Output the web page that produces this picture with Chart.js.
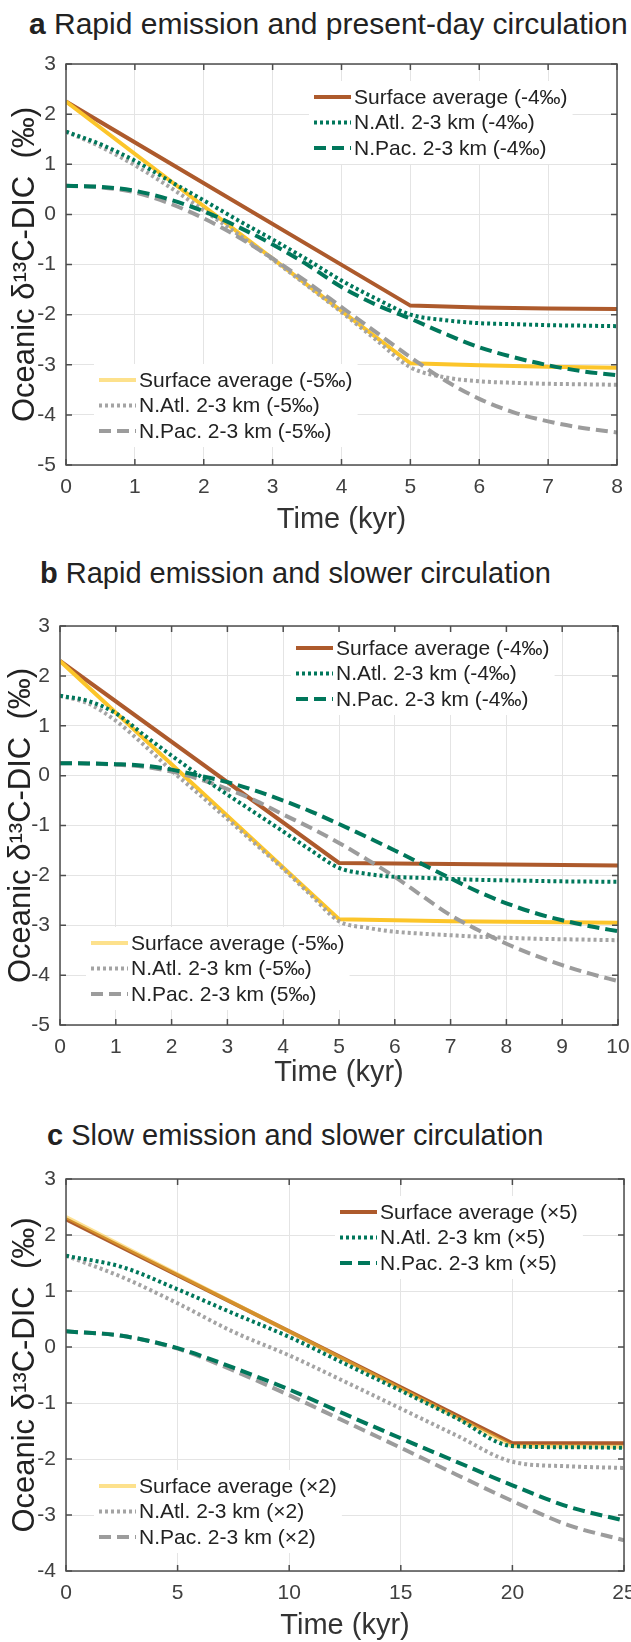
<!DOCTYPE html>
<html>
<head>
<meta charset="utf-8">
<title>Oceanic d13C-DIC response</title>
<script src="https://cdn.jsdelivr.net/npm/chart.js@4.4.1/dist/chart.umd.min.js"></script>
<style>
  html, body { margin: 0; padding: 0; background: #fff; overflow: hidden; }
  body { width: 631px; height: 1642px; position: relative; }
  canvas { position: absolute; left: 0; }
  .ptitle {
    position: absolute;
    font: 29px/30px "Liberation Sans", Arial, Helvetica, sans-serif;
    color: #222;
    white-space: nowrap;
  }
  .ptitle b { font-weight: bold; }
</style>
</head>
<body>

<div class="ptitle" style="top:9px;left:29px;font-size:30px"><b>a</b> Rapid emission and present-day circulation</div>
<canvas id="chartA" width="631" height="496" style="top:40px"></canvas>

<div class="ptitle" style="top:558px;left:40px"><b>b</b> Rapid emission and slower circulation</div>
<canvas id="chartB" width="631" height="487" style="top:602px"></canvas>

<div class="ptitle" style="top:1120px;left:47px"><b>c</b> Slow emission and slower circulation</div>
<canvas id="chartC" width="631" height="487" style="top:1155px"></canvas>

<script>
/* ---------- data (kyr, per mil) ---------- */

// panel a : rapid emission, present-day circulation
const kyrA = [0, 0.5, 1, 1.5, 2, 2.5, 3, 3.5, 4, 4.5, 5, 5.5, 6, 6.5, 7, 7.5, 8];
const kyrSurfA = [0, 5, 6, 7, 8];
const surfA4 = [2.25, -1.82, -1.86, -1.88, -1.89];
const surfA5 = [2.25, -2.97, -3.01, -3.04, -3.06];
const atlA4 = [1.65, 1.4, 1.07, 0.67, 0.28, -0.12, -0.5, -0.9, -1.32, -1.68, -2.0, -2.11, -2.17, -2.19, -2.21, -2.22, -2.23];
const pacA4 = [0.57, 0.55, 0.47, 0.3, 0.06, -0.25, -0.6, -1.0, -1.45, -1.8, -2.08, -2.38, -2.65, -2.85, -3.01, -3.13, -3.21];
const atlA5 = [1.65, 1.35, 0.98, 0.55, 0.08, -0.4, -0.9, -1.42, -1.95, -2.5, -3.05, -3.25, -3.33, -3.36, -3.38, -3.39, -3.4];
const pacA5 = [0.57, 0.54, 0.44, 0.22, -0.08, -0.45, -0.88, -1.35, -1.85, -2.35, -2.85, -3.31, -3.68, -3.95, -4.13, -4.26, -4.35];

// panel b : rapid emission, slower circulation
const kyrB = [0, 0.5, 1, 1.5, 2, 2.5, 3, 3.5, 4, 4.5, 5, 5.5, 6, 6.5, 7, 7.5, 8, 8.5, 9, 9.5, 10];
const kyrSurfB = [0, 5, 7, 10];
const surfB4 = [2.3, -1.75, -1.77, -1.8];
const surfB5 = [2.3, -2.88, -2.92, -2.95];
const atlB4 = [1.6, 1.5, 1.25, 0.82, 0.4, 0.0, -0.38, -0.75, -1.12, -1.5, -1.85, -1.97, -2.03, -2.05, -2.07, -2.09, -2.1, -2.11, -2.12, -2.125, -2.13];
const pacB4 = [0.25, 0.245, 0.23, 0.2, 0.12, 0.0, -0.13, -0.3, -0.5, -0.72, -0.97, -1.23, -1.5, -1.78, -2.06, -2.33, -2.56, -2.75, -2.9, -3.02, -3.12];
const atlB5 = [1.6, 1.45, 1.1, 0.62, 0.1, -0.38, -0.87, -1.37, -1.87, -2.4, -2.92, -3.05, -3.13, -3.17, -3.2, -3.23, -3.25, -3.27, -3.28, -3.29, -3.3];
const pacB5 = [0.25, 0.245, 0.22, 0.18, 0.08, -0.07, -0.27, -0.5, -0.78, -1.05, -1.35, -1.68, -2.03, -2.42, -2.8, -3.1, -3.37, -3.6, -3.8, -3.97, -4.12];

// panel c : slow emission, slower circulation
const kyrC = [0, 2.5, 5, 7.5, 10, 12.5, 15, 17.5, 20, 22.5, 25];
const kyrSurfC = [0, 20, 25];
const surfC5 = [2.28, -1.72, -1.72];
const surfC2 = [2.32, -1.77, -1.78];
const atlC5 = [1.63, 1.43, 1.03, 0.6, 0.18, -0.3, -0.78, -1.27, -1.77, -1.79, -1.8];
const pacC5 = [0.28, 0.2, -0.02, -0.37, -0.76, -1.2, -1.63, -2.05, -2.47, -2.85, -3.1];
const atlC2 = [1.63, 1.25, 0.78, 0.27, -0.15, -0.62, -1.1, -1.58, -2.05, -2.13, -2.16];
const pacC2 = [0.28, 0.2, -0.03, -0.42, -0.86, -1.33, -1.8, -2.28, -2.75, -3.18, -3.45];

// legend labels
const labelsA = ['Surface average (-4‰)', 'N.Atl. 2-3 km (-4‰)', 'N.Pac. 2-3 km (-4‰)',
                 'Surface average (-5‰)', 'N.Atl. 2-3 km (-5‰)', 'N.Pac. 2-3 km (-5‰)'];
const labelsB = ['Surface average (-4‰)', 'N.Atl. 2-3 km (-4‰)', 'N.Pac. 2-3 km (-4‰)',
                 'Surface average (-5‰)', 'N.Atl. 2-3 km (-5‰)', 'N.Pac. 2-3 km (5‰)'];
const labelsC = ['Surface average (×5)', 'N.Atl. 2-3 km (×5)', 'N.Pac. 2-3 km (×5)',
                 'Surface average (×2)', 'N.Atl. 2-3 km (×2)', 'N.Pac. 2-3 km (×2)'];

/* ---------- styling ---------- */

const FONT = '"Liberation Sans", Arial, Helvetica, sans-serif';
Chart.defaults.font.family = FONT;
Chart.defaults.color = '#404040';

const BROWN = '#ad5a2c';
const GOLD = '#fcc52a';
const GOLD_PALE = '#fde18c';
const GREEN = '#00775b';
const GRAY = '#a4a4a4';
const GRAY_DASH = '#9c9c9c';

const SOLID = [];
const DOTTED = [3, 3];
const DASHED = [12, 6];

function xy(xs, ys) {
	return xs.map(function (x, i) { return { x: x, y: ys[i] }; });
}

function line(label, xs, ys, color, dash, group, order, extra) {
	return Object.assign({
		label: label,
		data: xy(xs, ys),
		borderColor: color,
		borderWidth: 4,
		borderDash: dash,
		borderCapStyle: 'butt',
		pointRadius: 0,
		fill: false,
		cubicInterpolationMode: dash === SOLID ? 'default' : 'monotone',
		tension: 0,
		legendGroup: group,
		order: order
	}, extra || {});
}

// two legend boxes + MATLAB-like box with inward ticks
const panelDecor = {
	id: 'panelDecor',
	afterDatasetsDraw: function (chart, args, opts) {
		const ctx = chart.ctx;
		const a = chart.chartArea;
		const rowGap = 25.5;
		const sample = 37;

		ctx.save();
		ctx.font = '21px ' + FONT;
		ctx.textBaseline = 'middle';
		(opts.groups || []).forEach(function (g, gi) {
			const items = chart.data.datasets.filter(function (d) { return d.legendGroup === gi; });
			let w = 0;
			items.forEach(function (d) { w = Math.max(w, ctx.measureText(d.label).width); });
			const x0 = a.left + g.left;
			const y0 = a.top + g.top;
			ctx.fillStyle = '#fff';
			ctx.fillRect(x0 - 5, y0 - 16, sample + 3 + w + 10, rowGap * (items.length - 1) + 32);
			items.forEach(function (d, i) {
				const y = y0 + i * rowGap;
				ctx.beginPath();
				ctx.setLineDash(d.borderDash);
				ctx.lineWidth = 4;
				ctx.lineCap = 'butt';
				ctx.strokeStyle = d.legendColor || d.borderColor;
				ctx.moveTo(x0, y);
				ctx.lineTo(x0 + sample, y);
				ctx.stroke();
				ctx.setLineDash([]);
				ctx.fillStyle = '#222';
				ctx.fillText(d.label, x0 + sample + 3, y + 1);
			});
		});

		const xs = chart.scales.x, ys = chart.scales.y;
		ctx.strokeStyle = '#4d4d4d';
		ctx.lineWidth = 1.5;
		ctx.beginPath();
		xs.ticks.forEach(function (t) {
			const px = xs.getPixelForValue(t.value);
			ctx.moveTo(px, a.bottom); ctx.lineTo(px, a.bottom - 6);
			ctx.moveTo(px, a.top); ctx.lineTo(px, a.top + 6);
		});
		ys.ticks.forEach(function (t) {
			const py = ys.getPixelForValue(t.value);
			ctx.moveTo(a.left, py); ctx.lineTo(a.left + 6, py);
			ctx.moveTo(a.right, py); ctx.lineTo(a.right - 6, py);
		});
		ctx.stroke();
		ctx.strokeRect(a.left, a.top, a.right - a.left, a.bottom - a.top);
		ctx.restore();
	}
};

function makePanel(id, cfg) {
	return new Chart(document.getElementById(id), {
		type: 'line',
		data: { datasets: cfg.datasets },
		options: {
			responsive: false,
			animation: false,
			events: [],
			layout: { padding: { top: 24, right: cfg.padRight, bottom: 0, left: 0 } },
			plugins: {
				legend: { display: false },
				tooltip: { enabled: false },
				panelDecor: { groups: cfg.legends }
			},
			scales: {
				x: {
					type: 'linear',
					min: cfg.xMin, max: cfg.xMax,
					ticks: { stepSize: cfg.xStep, font: { size: 21 }, color: '#404040', padding: 10, maxRotation: 0 },
					grid: { color: '#e4e4e4', lineWidth: 1, drawTicks: false },
					border: { display: false },
					title: { display: true, text: 'Time (kyr)', color: '#333', font: { size: 29, lineHeight: 1 }, padding: { top: 0, bottom: 1.5 } },
					afterFit: function (s) {
						s.height = cfg.xHeight;
						s.paddingLeft = 0;
						s.paddingRight = 0;
					}
				},
				y: {
					min: cfg.yMin, max: cfg.yMax,
					ticks: { stepSize: 1, font: { size: 21 }, color: '#404040', padding: 10 },
					grid: { color: '#e4e4e4', lineWidth: 1, drawTicks: false },
					border: { display: false },
					title: { display: true, text: 'Oceanic δ¹³C-DIC  (‰)', color: '#222', font: { size: 31, lineHeight: 1 }, padding: { top: cfg.yTitlePad, bottom: 0 } },
					afterFit: function (s) { s.width = cfg.yWidth; }
				}
			}
		},
		plugins: [panelDecor]
	});
}

/* ---------- panels ---------- */

makePanel('chartA', {
	xMin: 0, xMax: 8, xStep: 1, yMin: -5, yMax: 3,
	yWidth: 66, padRight: 14, xHeight: 71, yTitlePad: 9.5,
	legends: [{ left: 248, top: 33 }, { left: 33, top: 316 }],
	datasets: [
		line(labelsA[0], kyrSurfA, surfA4, BROWN, SOLID, 0, 6),
		line(labelsA[1], kyrA, atlA4, GREEN, DOTTED, 0, 1),
		line(labelsA[2], kyrA, pacA4, GREEN, DASHED, 0, 2),
		line(labelsA[3], kyrSurfA, surfA5, GOLD, SOLID, 1, 5, { legendColor: GOLD_PALE }),
		line(labelsA[4], kyrA, atlA5, GRAY, DOTTED, 1, 4),
		line(labelsA[5], kyrA, pacA5, GRAY_DASH, DASHED, 1, 3)
	]
});

makePanel('chartB', {
	xMin: 0, xMax: 10, xStep: 1, yMin: -5, yMax: 3,
	yWidth: 60, padRight: 13, xHeight: 64, yTitlePad: 5.5,
	legends: [{ left: 236, top: 22 }, { left: 31, top: 317 }],
	datasets: [
		line(labelsB[0], kyrSurfB, surfB4, BROWN, SOLID, 0, 6),
		line(labelsB[1], kyrB, atlB4, GREEN, DOTTED, 0, 1),
		line(labelsB[2], kyrB, pacB4, GREEN, DASHED, 0, 2),
		line(labelsB[3], kyrSurfB, surfB5, GOLD, SOLID, 1, 5, { legendColor: GOLD_PALE }),
		line(labelsB[4], kyrB, atlB5, GRAY, DOTTED, 1, 4),
		line(labelsB[5], kyrB, pacB5, GRAY_DASH, DASHED, 1, 3)
	]
});

makePanel('chartC', {
	xMin: 0, xMax: 25, xStep: 5, yMin: -4, yMax: 3,
	yWidth: 66, padRight: 7, xHeight: 71, yTitlePad: 9.5,
	legends: [{ left: 274, top: 33 }, { left: 33, top: 307 }],
	datasets: [
		line(labelsC[0], kyrSurfC, surfC5, BROWN, SOLID, 0, 6),
		line(labelsC[1], kyrC, atlC5, GREEN, DOTTED, 0, 1),
		line(labelsC[2], kyrC, pacC5, GREEN, DASHED, 0, 2),
		line(labelsC[3], kyrSurfC, surfC2, 'rgba(252,197,42,0.5)', SOLID, 1, 5, { legendColor: GOLD_PALE }),
		line(labelsC[4], kyrC, atlC2, GRAY, DOTTED, 1, 4),
		line(labelsC[5], kyrC, pacC2, GRAY_DASH, DASHED, 1, 3)
	]
});
</script>
</body>
</html>
